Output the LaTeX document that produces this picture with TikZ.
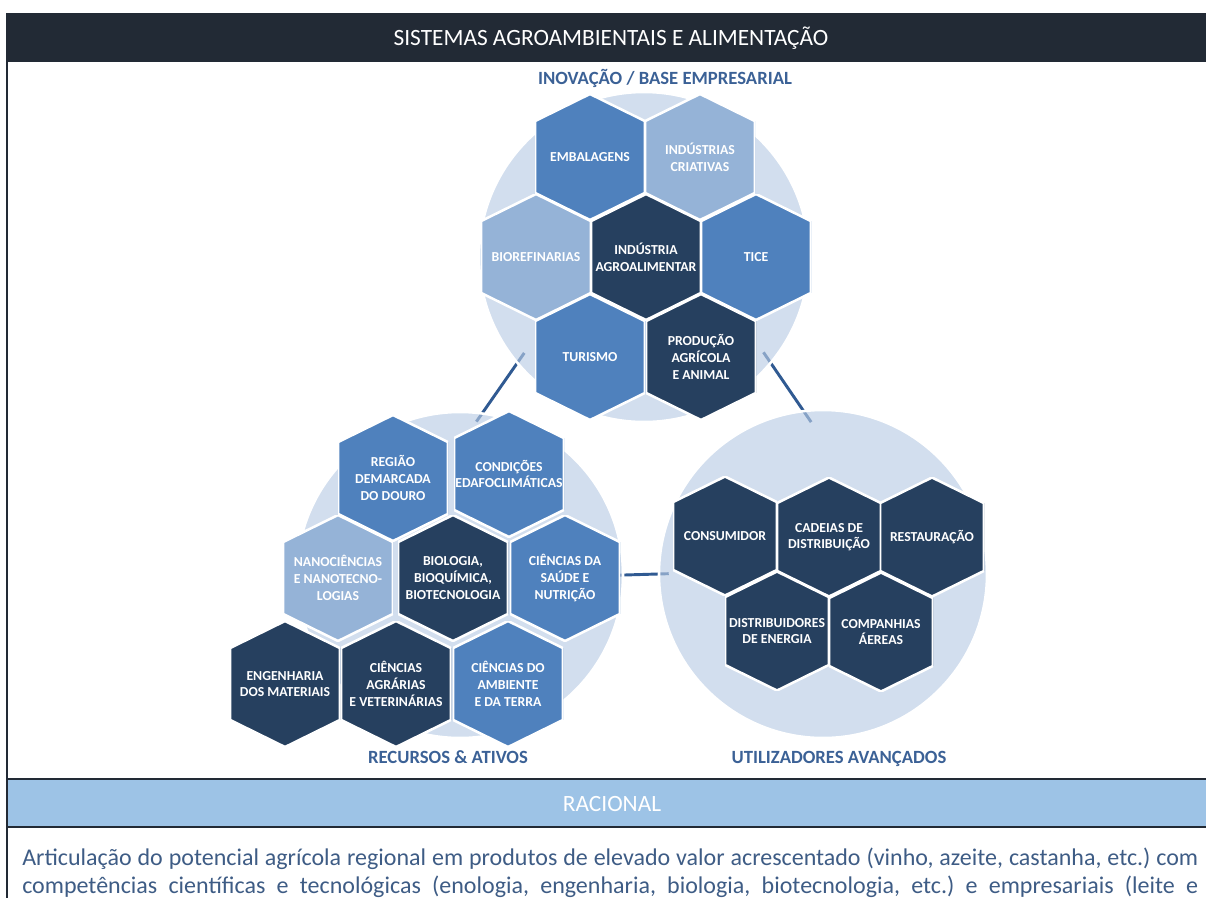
\documentclass[tikz,border=0pt]{standalone}
\usepackage{fontspec}
\setmainfont{Carlito}
\usetikzlibrary{calc}
\usetikzlibrary{backgrounds}

\definecolor{barra}{HTML}{222A35}
\definecolor{racional}{HTML}{9DC3E6}
\definecolor{hexescuro}{HTML}{26405F}
\definecolor{hexmedio}{HTML}{4F81BD}
\definecolor{hexclaro}{HTML}{95B3D7}
\definecolor{anel}{HTML}{B8CBE4}
\definecolor{ligacao}{HTML}{305A92}
\definecolor{rotulo}{HTML}{3B6196}
\definecolor{corpo}{HTML}{3E5C85}

\newcommand{\hexfont}{\fontsize{10.3}{12.5}\selectfont\bfseries}
\newcommand{\grupofont}{\fontsize{14}{16}\selectfont\bfseries}
\newcommand{\titulofont}{\fontsize{17.5}{21}\selectfont}
\newcommand{\corpofont}{\fontsize{18}{21}\selectfont\frenchspacing}

\tikzset{
  hexa/.style={minimum width=82.5pt, minimum height=94.5pt, inner sep=0pt,
    align=center, text=white, font=\hexfont,
    path picture={
      \filldraw[fill=#1, draw=white, line width=1.9pt]
        (path picture bounding box.north)
        -- ($(path picture bounding box.north east)!.215!(path picture bounding box.south east)$)
        -- ($(path picture bounding box.north east)!.785!(path picture bounding box.south east)$)
        -- (path picture bounding box.south)
        -- ($(path picture bounding box.north west)!.785!(path picture bounding box.south west)$)
        -- ($(path picture bounding box.north west)!.215!(path picture bounding box.south west)$)
        -- cycle;}},
  hexmenor/.style={minimum width=78pt, minimum height=89.25pt},
  anelfundo/.style={circle, inner sep=0pt, fill=anel, fill opacity=0.64,
    draw=white, line width=1.9pt},
  ligar/.style={draw=ligacao, line width=2.2pt},
  grupo/.style={font=\grupofont, text=rotulo, anchor=base, inner sep=0pt},
  faixa/.style={font=\titulofont, text=white, anchor=base, inner sep=0pt},
  linha/.style={font=\corpofont, text=corpo, anchor=base west, inner sep=0pt},
  borda/.style={draw=barra, line width=1.5pt},
}

\begin{document}
\begin{tikzpicture}[x=0.75pt, y=-0.75pt]
  \useasboundingbox (0,0) rectangle (1206,897);

  \fill[barra] (6,13) rectangle (1210,62);
  \fill[racional] (6,779) rectangle (1210,826);
  \draw[borda] (6.5,13) -- (6.5,900);
  \draw[borda] (6,779) -- (1210,779);
  \draw[borda] (6,826.5) -- (1210,826.5);

  \node[faixa] (titulo)   at (611,45)  {SISTEMAS AGROAMBIENTAIS E ALIMENTAÇÃO};
  \node[faixa] (racional) at (612,811) {RACIONAL};

  \node[anelfundo, minimum size=247.5pt] (inov)     at (644,257) {};
  \node[anelfundo, minimum size=244.5pt] (recursos) at (460,575) {};
  \node[anelfundo, minimum size=246pt]   (util)     at (823,574) {};

  \begin{scope}[on background layer]
    \draw[ligar, shorten <=-10pt,   shorten >=-8.5pt]  (inov.-140)  -- (recursos.82);
    \draw[ligar, shorten <=-10.5pt, shorten >=-11pt]   (inov.-40)   -- (util.97);
    \draw[ligar, shorten <=-3.75pt, shorten >=-8.25pt] (recursos.0) -- (util.180);
  \end{scope}

  \node[hexa=hexmedio]  (embal) at (590,157) {EMBALAGENS};
  \node[hexa=hexclaro]  (criat) at (700,157) {INDÚSTRIAS\\CRIATIVAS};
  \node[hexa=hexclaro]  (biore) at (536,257) {BIOREFINARIAS};
  \node[hexa=hexescuro] (agro)  at (646,257) {INDÚSTRIA\\AGROALIMENTAR};
  \node[hexa=hexmedio]  (tice)  at (756,257) {TICE};
  \node[hexa=hexmedio]  (turis) at (590,357) {TURISMO};
  \node[hexa=hexescuro] (prod)  at (701,357) {PRODUÇÃO\\AGRÍCOLA\\E ANIMAL};

  \node[hexa=hexmedio]  (regiao) at (393,478) {REGIÃO\\DEMARCADA\\DO DOURO};
  \node[hexa=hexmedio]  (cond)   at (509,474) {CONDIÇÕES\\EDAFOCLIMÁTICAS};
  \node[hexa=hexclaro]  (nano)   at (338,578) {NANOCIÊNCIAS\\E NANOTECNO-\\LOGIAS};
  \node[hexa=hexescuro] (bio)    at (453,578) {BIOLOGIA,\\BIOQUÍMICA,\\BIOTECNOLOGIA};
  \node[hexa=hexmedio]  (saude)  at (565,578) {CIÊNCIAS DA\\SAÚDE E\\NUTRIÇÃO};
  \node[hexa=hexescuro] (eng)    at (285,684) {ENGENHARIA\\DOS MATERIAIS};
  \node[hexa=hexescuro] (agrar)  at (396,684) {CIÊNCIAS\\AGRÁRIAS\\E VETERINÁRIAS};
  \node[hexa=hexmedio]  (amb)    at (508,684) {CIÊNCIAS DO\\AMBIENTE\\E DA TERRA};

  \node[hexa=hexescuro, hexmenor] (cons) at (725,536) {CONSUMIDOR};
  \node[hexa=hexescuro, hexmenor] (cad)  at (829,537) {CADEIAS DE\\DISTRIBUIÇÃO};
  \node[hexa=hexescuro, hexmenor] (rest) at (932,537) {RESTAURAÇÃO};
  \node[hexa=hexescuro, hexmenor] (dist) at (777,631) {DISTRIBUIDORES\\DE ENERGIA};
  \node[hexa=hexescuro, hexmenor] (comp) at (881,632) {COMPANHIAS\\ÁEREAS};

  \node[grupo] (lblinov) at (665,84)  {INOVAÇÃO / BASE EMPRESARIAL};
  \node[grupo] (lblrec)  at (448,763) {RECURSOS \& ATIVOS};
  \node[grupo] (lblutil) at (839,763) {UTILIZADORES AVANÇADOS};

  \node[linha] (linhaA) at (22,865) {\makebox[882pt][s]{Articulação do potencial agrícola regional em produtos de elevado valor acrescentado (vinho, azeite, castanha, etc.) com}};
  \node[linha] (linhaB) at (22,893) {\makebox[882pt][s]{competências científicas e tecnológicas (enologia, engenharia, biologia, biotecnologia, etc.) e empresariais (leite e}};
\end{tikzpicture}
\end{document}
